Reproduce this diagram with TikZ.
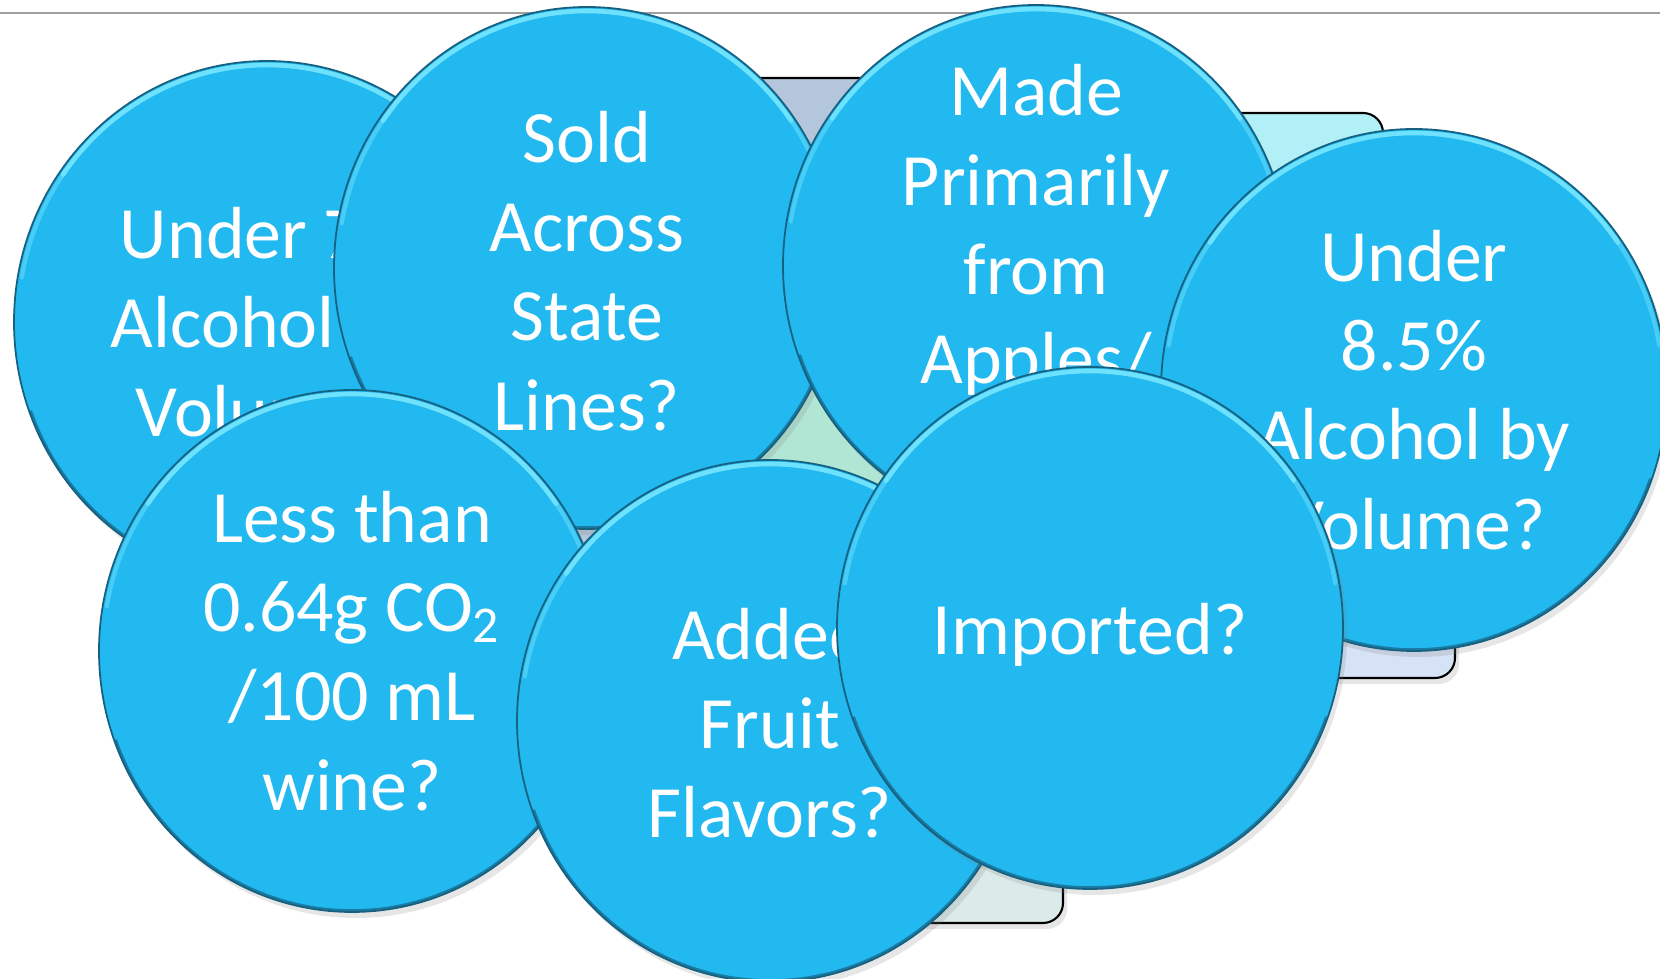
\documentclass[tikz,border=0pt]{standalone}
\usepackage{fontspec}
\setmainfont{Carlito}
\usetikzlibrary{shapes.geometric}
\usetikzlibrary{shadows}

\definecolor{bubblecol}{RGB}{34,184,240}
\definecolor{edgecol}{RGB}{22,96,128}
\definecolor{rimcol}{RGB}{110,226,252}
\definecolor{steelcol}{RGB}{180,198,220}
\definecolor{cyancol}{RGB}{178,240,247}
\definecolor{lavcol}{RGB}{214,226,245}
\definecolor{sagecol}{RGB}{218,235,234}
\definecolor{mintcol}{RGB}{178,230,212}

\tikzset{
  bubble/.style={ellipse, draw=edgecol, line width=0.5pt, fill=bubblecol,
    minimum width=50.6mm, minimum height=52.2mm, inner sep=0pt,
    drop shadow={shadow xshift=0.4mm, shadow yshift=-0.6mm, opacity=0.2},
    path picture={
      \draw[edgecol!70!bubblecol, line width=1.6pt]
        ([shift={(200:25.3mm and 26.1mm)}]path picture bounding box.center)
        arc[start angle=200, end angle=340, x radius=25.3mm, y radius=26.1mm];
      \draw[rimcol, line width=1.2pt, opacity=0.5, line cap=round]
        ([shift={(10:24.9mm and 25.7mm)}]path picture bounding box.center)
        arc[start angle=10, end angle=170, x radius=24.9mm, y radius=25.7mm];
      \draw[rimcol, line width=1.3pt, line cap=round]
        ([shift={(35:24.9mm and 25.7mm)}]path picture bounding box.center)
        arc[start angle=35, end angle=145, x radius=24.9mm, y radius=25.7mm];}},
  qtext/.style={text=white, align=center, font=\fontsize{21}{25.4}\selectfont},
  backbox/.style={draw=black, line width=0.6pt, rounded corners=2mm,
    drop shadow={shadow xshift=0.4mm, shadow yshift=-0.6mm, opacity=0.2}}
}

\begin{document}
\begin{tikzpicture}[x=0.1mm, y=-0.1mm]
  \useasboundingbox (0,0) rectangle (1660,979);
  \clip (0,0) rectangle (1660,979);
  \draw[gray!75, line width=0.8pt] (0,13) -- (1660,13);

  % boxes behind the bubbles
  \draw[backbox, fill=steelcol] (560,78) rectangle (1120,560);
  \draw[backbox, fill=cyancol] (1050,113) rectangle (1383,450);
  \draw[backbox, fill=mintcol] (700,330) rectangle (1000,600);
  \draw[backbox, fill=lavcol] (1100,400) rectangle (1455,678);
  \draw[backbox, fill=sagecol] (700,600) rectangle (1063,923);

  \node[bubble, label={[qtext]center:{Under 7\%\\Alcohol by\\Volume?}}] (under7) at (267,322) {};
  \node[bubble, label={[qtext, yshift=-0.3mm]center:{Sold\\Across\\State\\Lines?}}] (sold) at (587,268) {};
  \node[bubble, label={[qtext, yshift=-0.3mm]center:{Made\\Primarily\\from\\Apples/\\Pears?}}] (made) at (1036,266) {};
  \node[bubble, label={[qtext]center:{Under\\8.5\%\\Alcohol by\\Volume?}}] (under85) at (1414,390) {};
  \node[bubble, label={[qtext]center:{Less than\\0.64g CO\textsubscript{2}\\/100 mL\\wine?}}] (less) at (352,651) {};
  \node[bubble, label={[qtext, yshift=-0.2mm]center:{Added\\Fruit\\Flavors?}}] (added) at (770,721) {};
  \node[bubble, label={[qtext, yshift=-0.7mm]center:{Imported?}}] (imported) at (1090,628) {};
\end{tikzpicture}
\end{document}
